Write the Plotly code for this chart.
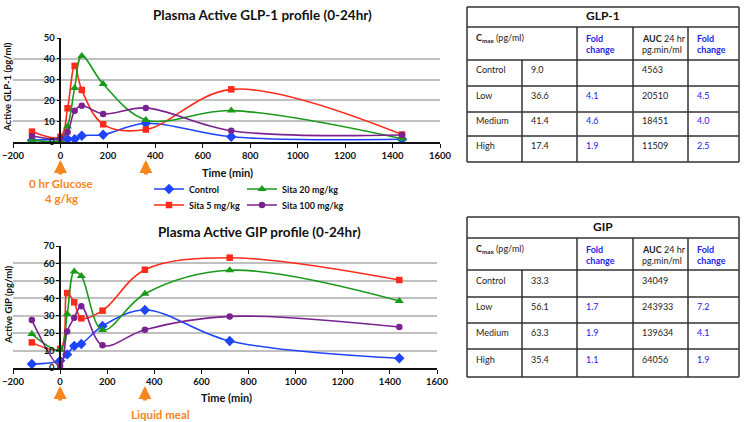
import plotly.graph_objects as go

W, H = 745, 422

# ---------------- data ----------------
time_min = [-120, 0, 30, 60, 90, 180, 360, 720, 1440]
series_names = ["Control", "Sita 5 mg/kg", "Sita 20 mg/kg", "Sita 100 mg/kg"]

glp1_control = [0.8, 1.4, 1.4, 1.4, 3.0, 3.5, 9.0, 2.5, 1.3]
glp1_sita5 = [5.0, 2.5, 16.2, 36.6, 25.0, 8.5, 6.0, 25.3, 3.6]
glp1_sita20 = [1.0, 1.0, 7.5, 26.0, 41.4, 27.9, 10.6, 15.1, 1.6]
glp1_sita100 = [2.9, 1.8, 4.8, 15.0, 17.4, 13.5, 16.4, 5.4, 3.4]

gip_control = [2.3, 4.2, 7.8, 12.6, 13.8, 24.1, 33.3, 15.5, 5.6]
gip_sita5 = [14.7, 11.0, 43.0, 37.7, 28.5, 32.9, 56.4, 63.3, 50.5]
gip_sita20 = [19.5, 10.5, 31.0, 55.3, 52.8, 21.8, 42.6, 56.1, 38.5]
gip_sita100 = [27.5, 1.1, 21.0, 28.9, 35.4, 13.0, 22.0, 29.6, 23.5]

x_ticks = [-200, 0, 200, 400, 600, 800, 1000, 1200, 1400, 1600]

groups = ["Control", "Low", "Medium", "High"]
glp1_cmax = ["9.0", "36.6", "41.4", "17.4"]
glp1_cmax_fold = ["", "4.1", "4.6", "1.9"]
glp1_auc = ["4563", "20510", "18451", "11509"]
glp1_auc_fold = ["", "4.5", "4.0", "2.5"]

gip_cmax = ["33.3", "56.1", "63.3", "35.4"]
gip_cmax_fold = ["", "1.7", "1.9", "1.1"]
gip_auc = ["34049", "243933", "139634", "64056"]
gip_auc_fold = ["", "7.2", "4.1", "1.9"]

# ---------------- style ----------------
FONT = "Lato"
colors = {"Control": "#1F45FC", "Sita 5 mg/kg": "#FF2A1A",
          "Sita 20 mg/kg": "#1A9A1A", "Sita 100 mg/kg": "#7A2290"}
symbols = {"Control": "diamond", "Sita 5 mg/kg": "square",
           "Sita 20 mg/kg": "triangle-up", "Sita 100 mg/kg": "circle"}
msize = {"Control": 8, "Sita 5 mg/kg": 6.5, "Sita 20 mg/kg": 8, "Sita 100 mg/kg": 6.5}
ORANGE = "#F7861C"
BLUE_TXT = "#2323E8"
TXT = "#222222"


def px(x):
    return x / W


def py(y):
    return 1 - y / H


fig = go.Figure()

glp_data = {"Control": glp1_control, "Sita 5 mg/kg": glp1_sita5,
            "Sita 20 mg/kg": glp1_sita20, "Sita 100 mg/kg": glp1_sita100}
gip_data = {"Control": gip_control, "Sita 5 mg/kg": gip_sita5,
            "Sita 20 mg/kg": gip_sita20, "Sita 100 mg/kg": gip_sita100}
legend_ids = {"Control": "legend", "Sita 20 mg/kg": "legend2",
              "Sita 5 mg/kg": "legend3", "Sita 100 mg/kg": "legend4"}

for name in series_names:
    fig.add_trace(go.Scatter(
        x=time_min, y=glp_data[name], name=name, mode="lines+markers",
        line=dict(color=colors[name], width=1.6, shape="spline", smoothing=1.0),
        marker=dict(symbol=symbols[name], size=msize[name], color=colors[name]),
        xaxis="x", yaxis="y", legend=legend_ids[name], showlegend=True))
for name in series_names:
    fig.add_trace(go.Scatter(
        x=time_min, y=gip_data[name], name=name, mode="lines+markers",
        line=dict(color=colors[name], width=1.6, shape="spline", smoothing=1.0),
        marker=dict(symbol=symbols[name], size=msize[name], color=colors[name]),
        xaxis="x2", yaxis="y2", showlegend=False))

tickfont = dict(family=FONT, size=9.5, color="#111", weight="bold")

x1_dom = [px(13), px(440)]
y1_dom = [py(142), py(38)]
x2_dom = [px(13), px(437)]
y2_dom = [py(368), py(246)]


def ypos(dom):
    return dom[0] + (0 - (-200)) / 1800 * (dom[1] - dom[0])


common_x = dict(range=[-200, 1600], tickvals=x_ticks, showgrid=False, zeroline=False,
                showline=True, linecolor="#111", linewidth=1.5, ticks="outside",
                ticklen=4, tickcolor="#111", tickfont=tickfont, automargin=False)
common_y = dict(dtick=10, showgrid=True, gridcolor="#C0C0C0", gridwidth=1.5,
                zeroline=False, showline=True, linecolor="#111", linewidth=1.5,
                ticks="outside", ticklen=3, tickcolor="#111", tickfont=tickfont,
                anchor="free", automargin=False)

fig.update_layout(
    width=W, height=H, margin=dict(l=0, r=0, t=0, b=0, autoexpand=False),
    paper_bgcolor="white", plot_bgcolor="white",
    font=dict(family=FONT, color=TXT),
    xaxis=dict(domain=x1_dom, anchor="y", **common_x),
    yaxis=dict(domain=y1_dom, range=[0, 50], position=ypos(x1_dom), **common_y),
    xaxis2=dict(domain=x2_dom, anchor="y2", **common_x),
    yaxis2=dict(domain=y2_dom, range=[0, 70], position=ypos(x2_dom), **common_y),
)

leg_font = dict(family=FONT, size=9, color="#111", weight="bold")
leg_pos = {"legend": (149, 189), "legend2": (242, 189),
           "legend3": (149, 205), "legend4": (242, 205)}
for lid, (lx, ly) in leg_pos.items():
    fig.layout[lid] = dict(x=px(lx), y=py(ly), xanchor="left", yanchor="middle",
                           bgcolor="rgba(0,0,0,0)", borderwidth=0, font=leg_font,
                           itemwidth=30, tracegroupgap=0)

ann = []


def text(x, y, s, size=10, color=TXT, bold=False, xanchor="center", angle=0):
    if s == "":
        return
    ann.append(dict(x=px(x), y=py(y), xref="paper", yref="paper", text=s,
                    showarrow=False, xanchor=xanchor, yanchor="middle",
                    textangle=angle,
                    font=dict(family=FONT, size=size, color=color,
                              weight="bold" if bold else "normal")))


text(262, 15, "Plasma Active GLP-1 profile (0-24hr)", 13.5, "#111", True)
text(259, 232, "Plasma Active GIP profile (0-24hr)", 13.5, "#111", True)
text(227, 172, "Time (min)", 11, "#111", True)
text(226, 397, "Time (min)", 11, "#111", True)
text(8, 87, "Active GLP-1 (pg/ml)", 9.5, "#111", True, angle=-90)
text(8, 305, "Active GIP (pg/ml)", 9.5, "#111", True, angle=-90)

text(61, 183, "0 hr Glucose", 11.5, ORANGE, True)
text(61, 198, "4 g/kg", 11.5, ORANGE, True)
text(160, 414, "Liquid meal", 11.5, ORANGE, True)

for xr, yh in [("x", 160), ("x2", 386)]:
    for t in [0, 360]:
        ann.append(dict(x=t, y=py(yh), xref=xr, yref="paper", text="",
                        showarrow=True, ax=0, ay=16, arrowhead=2, arrowsize=0.65,
                        arrowwidth=4, arrowcolor=ORANGE))

# ---------------- tables ----------------
shapes = []
col_x = [467, 522, 577, 633, 688, 739]
LC = "#333333"


def line(x0, y0, x1, y1):
    shapes.append(dict(type="line", xref="paper", yref="paper",
                       x0=px(x0), y0=py(y0), x1=px(x1), y1=py(y1),
                       line=dict(color=LC, width=1.5)))


TS = 9


def draw_table(row_y, title, cmax, cmax_fold, auc, auc_fold):
    top, bot = row_y[0], row_y[-1]
    line(col_x[0], top, col_x[-1], top)
    line(col_x[0], bot, col_x[-1], bot)
    line(col_x[0], top, col_x[0], bot)
    line(col_x[-1], top, col_x[-1], bot)
    for yy in row_y[1:-1]:
        line(col_x[0], yy, col_x[-1], yy)
    line(col_x[1], row_y[2], col_x[1], bot)
    for xx in col_x[2:-1]:
        line(xx, row_y[1], xx, bot)
    text((col_x[0] + col_x[-1]) / 2, (row_y[0] + row_y[1]) / 2 - 1, title, 12, "#111", True)
    hy = (row_y[1] + row_y[2]) / 2
    text(col_x[0] + 7, hy - 5, "<b>C</b><sub><b>max</b></sub> (pg/ml)", TS, TXT, False, "left")
    text(col_x[2] + 7, hy - 5, "Fold", TS, BLUE_TXT, True, "left")
    text(col_x[2] + 7, hy + 6, "change", TS, BLUE_TXT, True, "left")
    text(col_x[3] + 7, hy - 5, "<b>AUC</b> 24 hr", TS, TXT, False, "left")
    text(col_x[3] + 7, hy + 6, "pg.min/ml", TS, TXT, False, "left")
    text(col_x[4] + 7, hy - 5, "Fold", TS, BLUE_TXT, True, "left")
    text(col_x[4] + 7, hy + 6, "change", TS, BLUE_TXT, True, "left")
    for i, g in enumerate(groups):
        cy = (row_y[2 + i] + row_y[3 + i]) / 2 - 3.5
        text(col_x[0] + 7, cy, g, TS, TXT, False, "left")
        text(col_x[1] + 7, cy, cmax[i], TS, TXT, False, "left")
        text(col_x[2] + 7, cy, cmax_fold[i], TS, BLUE_TXT, False, "left")
        text(col_x[3] + 7, cy, auc[i], TS, TXT, False, "left")
        text(col_x[4] + 7, cy, auc_fold[i], TS, BLUE_TXT, False, "left")


draw_table([7, 27, 60, 86, 112, 136, 162], "GLP-1",
           glp1_cmax, glp1_cmax_fold, glp1_auc, glp1_auc_fold)
draw_table([217, 238, 270, 297, 323, 349, 377], "GIP",
           gip_cmax, gip_cmax_fold, gip_auc, gip_auc_fold)

fig.update_layout(annotations=ann, shapes=shapes)
fig.write_html("out.html", config={"displayModeBar": False},
               post_script="document.body.style.margin='0';document.body.style.overflow='hidden';")
